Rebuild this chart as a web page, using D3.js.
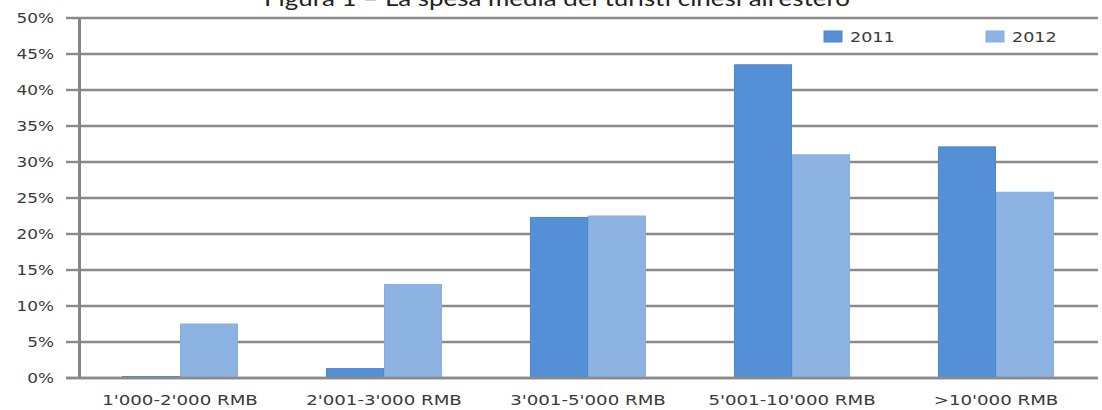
<!DOCTYPE html>
<html>
<head>
<meta charset="utf-8">
<script src="https://cdn.jsdelivr.net/npm/d3@7"></script>
<style>
  html, body { margin: 0; padding: 0; background: #fff; }
  svg { display: block; }
</style>
</head>
<body>
<script>
// Spending brackets of Chinese tourists abroad, share of respondents (%)
const categories = ["1'000-2'000 RMB", "2'001-3'000 RMB", "3'001-5'000 RMB", "5'001-10'000 RMB", ">10'000 RMB"];
const seriesNames = ["2011", "2012"];
const values2011 = [0.2, 1.3, 22.3, 43.5, 32.1];
const values2012 = [7.5, 13.0, 22.5, 31.0, 25.8];
const yTicks = [0, 5, 10, 15, 20, 25, 30, 35, 40, 45, 50];
const titleText = "Figura 1 – La spesa media dei turisti cinesi all'estero";

const W = 1102, H = 410;
const plotLeft = 78, plotRight = 1098, plotTop = 18, plotBottom = 378;
const colors = { "2011": "#5590d6", "2012": "#8db3e2" };
const edge = { "2011": "#4a87d3", "2012": "#87aee0" };
const stretch = 1.25;

const rows = categories.map((c, i) => ({ cat: c, "2011": values2011[i], "2012": values2012[i] }));

const svg = d3.select("body").append("svg").attr("width", W).attr("height", H);
svg.append("rect").attr("width", W).attr("height", H).attr("fill", "#fff");

const x0 = d3.scaleBand().domain(categories).range([plotLeft, plotRight])
  .paddingInner(0.431).paddingOuter(0.2155);
const x1 = d3.scaleBand().domain(seriesNames).range([0, x0.bandwidth()]);
const y = d3.scaleLinear().domain([0, 50]).range([plotBottom, plotTop]);

// horizontal gridlines with outer tick stubs
svg.append("g").selectAll("line").data(yTicks).join("line")
  .attr("x1", 66).attr("x2", plotRight)
  .attr("y1", d => y(d)).attr("y2", d => y(d))
  .attr("stroke", "#8a8a8a").attr("stroke-width", 2.4);

// bars
const groups = svg.append("g").selectAll("g").data(rows).join("g")
  .attr("transform", d => `translate(${x0(d.cat)},0)`);
groups.selectAll("rect").data(d => seriesNames.map(s => ({ s, v: d[s] }))).join("rect")
  .attr("x", d => x1(d.s) + 0.5)
  .attr("width", x1.bandwidth() - 1)
  .attr("y", d => y(d.v))
  .attr("height", d => y(0) - y(d.v))
  .attr("fill", d => colors[d.s])
  .attr("stroke", d => edge[d.s]).attr("stroke-width", 1);

// baseline redrawn over bars
svg.append("line").attr("x1", 66).attr("x2", plotRight)
  .attr("y1", y(0)).attr("y2", y(0))
  .attr("stroke", "#8a8a8a").attr("stroke-width", 2.4);

// y axis
const yAxis = d3.axisLeft(y).tickValues(yTicks).tickSize(0).tickPadding(0)
  .tickFormat(d => d + "%");
const gy = svg.append("g").attr("transform", `translate(${plotLeft + 1},0)`).call(yAxis);
gy.select(".domain").attr("stroke", "#868686").attr("stroke-width", 3);
gy.selectAll("text")
  .attr("x", null).attr("dy", "0.36em")
  .attr("transform", `translate(-25,0) scale(${stretch},1)`)
  .attr("font-family", "'DejaVu Sans', Verdana, sans-serif")
  .attr("font-size", 13.5).attr("fill", "#3a3a3a").attr("text-anchor", "end");

// x axis labels
const xAxis = d3.axisBottom(x0).tickSize(0).tickPadding(0);
const gx = svg.append("g").attr("transform", `translate(0,${plotBottom})`).call(xAxis);
gx.select(".domain").remove();
gx.selectAll("text")
  .attr("y", null).attr("dy", null)
  .attr("transform", `translate(0,27) scale(1.3,1)`)
  .attr("font-family", "'DejaVu Sans', Verdana, sans-serif")
  .attr("font-size", 14).attr("fill", "#3a3a3a").attr("text-anchor", "middle");

// legend
const legendX = [824, 986];
const legend = svg.append("g").selectAll("g").data(seriesNames).join("g")
  .attr("transform", (d, i) => `translate(${legendX[i]},31)`);
legend.append("rect").attr("width", 18).attr("height", 11)
  .attr("fill", d => colors[d]).attr("stroke", d => edge[d]);
legend.append("text")
  .attr("transform", `translate(26,11) scale(1.3,1)`)
  .attr("font-family", "'DejaVu Sans', Verdana, sans-serif")
  .attr("font-size", 13.5).attr("fill", "#3a3a3a")
  .text(d => d);

// title, partly above the top edge
svg.append("text")
  .attr("transform", `translate(557,6) scale(1.18,1)`)
  .attr("text-anchor", "middle")
  .attr("font-family", "Lato, 'Open Sans', sans-serif")
  .attr("font-size", 22).attr("fill", "#222")
  .text(titleText);
</script>
</body>
</html>
